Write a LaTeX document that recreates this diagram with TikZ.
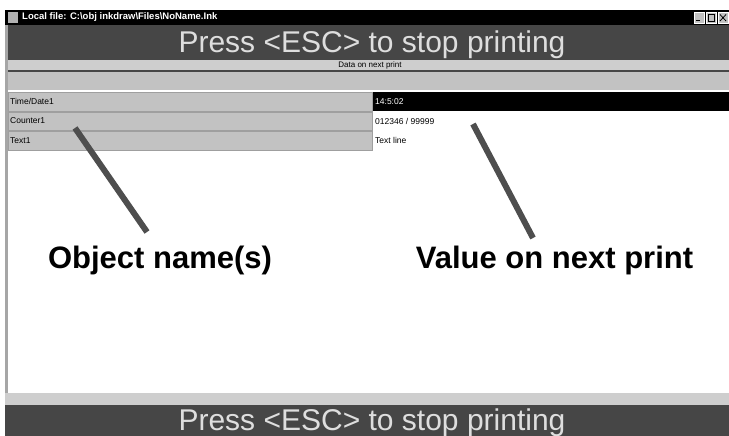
\documentclass[tikz,border=0pt]{standalone}
\usepackage{fontspec}
\setmainfont{Liberation Sans}
\usetikzlibrary{positioning}
\definecolor{bandgray}{RGB}{70,70,70}
\definecolor{panelgray}{RGB}{194,194,194}
\definecolor{stripgray}{RGB}{206,206,206}
\definecolor{pointergray}{RGB}{78,78,78}
\definecolor{esctext}{RGB}{222,222,222}

\begin{document}
\begin{tikzpicture}[x=1pt,y=-1pt,
    cell/.style={fill=panelgray, draw=gray!75, line width=0.6pt},
    celltext/.style={anchor=west, inner sep=0pt, font=\fontsize{8.5}{8.5}\selectfont},
    escmsg/.style={anchor=base, inner sep=0pt, text=esctext, font=\fontsize{30}{30}\selectfont},
    caption/.style={anchor=base, inner sep=0pt, font=\bfseries\fontsize{31}{31}\selectfont},
    winbutton/.style={fill=panelgray, draw=white, line width=0.5pt},
    pointer/.style={pointergray, line width=6pt}]
    \useasboundingbox (0,0) rectangle (729,436);
    \fill[white] (0,0) rectangle (729,436);

    \coordinate (nameTip) at (75,128);
    \coordinate (nameTail) at (147,232);
    \coordinate (valueTip) at (473,124);
    \coordinate (valueTail) at (533,238);

    % title bar
    \fill[black] (5,10) rectangle (729,25);
    \fill[gray!60] (8,12) rectangle (18,23);
    \node[anchor=west, inner sep=0pt, text=white,
        font=\bfseries\fontsize{9.5}{9.5}\selectfont] (title) at (22,17.5)
        {Local file: C:\textbackslash obj inkdraw\textbackslash Files\textbackslash NoName.Ink};
    \draw[winbutton] (694,12) rectangle (704,23);
    \draw[winbutton] (706,12) rectangle (716,23);
    \draw[winbutton] (718,12) rectangle (728,23);
    \draw[black, line width=1pt] (696,21) -- (700,21);
    \draw[black, line width=0.6pt] (708,14.5) rectangle (714,21);
    \draw[black, line width=0.8pt] (720,14.5) -- (726,21) (720,21) -- (726,14.5);

    % top band
    \fill[bandgray] (5,25) rectangle (729,60);
    \node[escmsg] (escTop) at (372,53) {Press <ESC> to stop printing};
    \fill[stripgray] (5,60) rectangle (729,70);
    \node[inner sep=0pt, font=\fontsize{8}{8}\selectfont] (dataHead) at (370,65)
        {Data on next print};
    \fill[bandgray] (5,70) rectangle (729,72);
    \fill[panelgray] (5,72) rectangle (729,90);

    % rows
    \draw[cell] (8,92) rectangle (372,111);
    \draw[cell] (8,112) rectangle (372,130);
    \draw[cell] (8,131) rectangle (372,150);
    \fill[black] (373,92) rectangle (729,111);

    \node[celltext] (timeName) at (10,101.5) {Time/Date1};
    \node[celltext] (counterName) at (10,121) {Counter1};
    \node[celltext] (textName) at (10,140.5) {Text1};
    \node[celltext, text=white] (timeValue) at (375,101.5) {14:5:02};
    \node[celltext] (counterValue) at (375,121) {012346 / 99999};
    \node[celltext] (textValue) at (375,140.5) {Text line};

    % pointers
    \draw[pointer] (nameTip) -- (nameTail);
    \draw[pointer] (valueTip) -- (valueTail);
    \node[caption] (nameCap) at (160,268) {Object name(s)};
    \node[caption] (valueCap) at (554.5,268) {Value on next print};

    % left border and bottom band
    \fill[gray!70] (5,25) rectangle (8,405);
    \fill[stripgray] (5,393) rectangle (729,405);
    \fill[bandgray] (5,405) rectangle (729,436);
    \node[escmsg] (escBottom) at (372,430) {Press <ESC> to stop printing};
\end{tikzpicture}
\end{document}
